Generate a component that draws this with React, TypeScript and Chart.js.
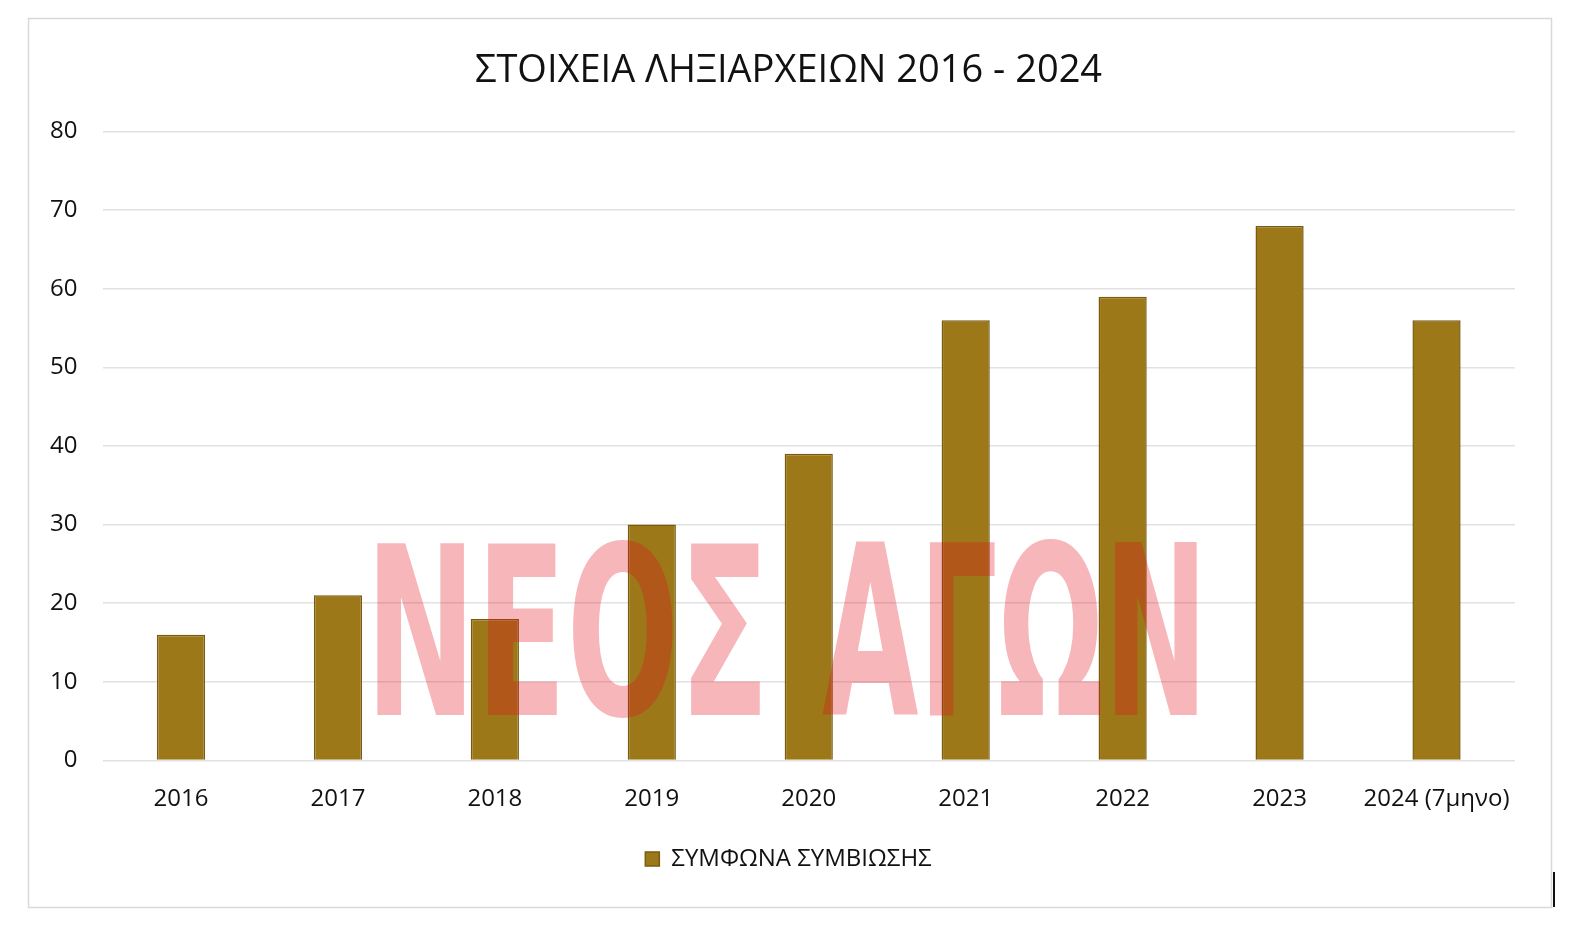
import React, { useEffect, useRef } from "react";
import { Chart, registerables } from "chart.js";

Chart.register(...registerables);

const categories = ["2016", "2017", "2018", "2019", "2020", "2021", "2022", "2023", "2024 (7μηνο)"];
const values = [16, 21, 18, 30, 39, 56, 59, 68, 56];
const seriesName = "ΣΥΜΦΩΝΑ ΣΥΜΒΙΩΣΗΣ";
const titleText = "ΣΤΟΙΧΕΙΑ ΛΗΞΙΑΡΧΕΙΩΝ 2016 - 2024";
const watermarkWords = ["ΝΕΟΣ", "ΑΓΩΝ"];
const yMin = 0;
const yMax = 80;
const yStep = 10;

const FONT = "'Open Sans', 'Noto Sans', sans-serif";

const framePlugin = {
  id: "frame",
  beforeDraw(chart: any) {
    const ctx = chart.ctx;
    ctx.save();
    ctx.fillStyle = "#ffffff";
    ctx.fillRect(0, 0, chart.width, chart.height);
    ctx.strokeStyle = "#d9d9d9";
    ctx.lineWidth = 1.5;
    ctx.strokeRect(28.5, 18.5, 1523, 889);
    ctx.restore();
  },
  afterDraw(chart: any) {
    const ctx = chart.ctx;
    ctx.save();
    const boxes = [
      { x0: 377, x1: 760 },
      { x0: 822, x1: 1198 },
    ];
    const yTop = 539;
    const yBot = 715;
    const h = yBot - yTop;
    ctx.fillStyle = "rgba(225, 12, 25, 0.3)";
    ctx.textBaseline = "alphabetic";
    ctx.textAlign = "left";
    watermarkWords.forEach((w, i) => {
      const b = boxes[i];
      ctx.font = `bold 100px 'DejaVu Sans Condensed', 'DejaVu Sans', sans-serif`;
      const m = ctx.measureText(w);
      const asc = m.actualBoundingBoxAscent;
      const width = m.actualBoundingBoxRight + m.actualBoundingBoxLeft;
      const sy = h / asc;
      const sx = (b.x1 - b.x0) / width;
      ctx.save();
      ctx.translate(b.x0, yBot);
      ctx.scale(sx, sy);
      ctx.fillText(w, m.actualBoundingBoxLeft, 0);
      ctx.restore();
    });
    ctx.strokeStyle = "#111111";
    ctx.lineWidth = 2;
    ctx.beginPath();
    ctx.moveTo(1554, 872);
    ctx.lineTo(1554, 907);
    ctx.stroke();
    ctx.restore();
  },
};

export default function App() {
  const ref = useRef<HTMLCanvasElement>(null);
  useEffect(() => {
    document.body.style.margin = "0";
    const canvas = ref.current!;
    const chart = new Chart(canvas, {
      type: "bar",
      data: {
        labels: categories,
        datasets: [
          {
            label: seriesName,
            data: values,
            backgroundColor: "#9C7819",
            borderColor: "#7a5a0f",
            borderWidth: 1.5,
            categoryPercentage: 1,
            barPercentage: 0.307,
          },
        ],
      },
      options: {
        responsive: false,
        animation: false,
        layout: { padding: { left: 2, right: 0, top: 48, bottom: 44 } },
        plugins: {
          title: {
            display: true,
            text: titleText,
            color: "#111111",
            font: { family: FONT, size: 38, weight: "normal", lineHeight: 1.2 },
            padding: { top: 0, bottom: 38 },
          },
          legend: {
            position: "bottom",
            labels: {
              color: "#111111",
              font: { family: FONT, size: 24 },
              boxWidth: 14,
              boxHeight: 14,
              padding: 10,
            },
          },
          tooltip: { enabled: false },
        },
        scales: {
          x: {
            grid: { display: false, drawTicks: false },
            border: { display: false },
            ticks: {
              color: "#111111",
              font: { family: FONT, size: 24 },
              padding: 24,
              maxRotation: 0,
              autoSkip: false,
            },
            afterFit(scale: any) {
              scale.height = 76.6;
            },
          },
          y: {
            min: yMin,
            max: yMax,
            grid: { color: "#e2e2e2", lineWidth: 1.5, drawTicks: false },
            border: { display: false },
            ticks: {
              stepSize: yStep,
              color: "#111111",
              font: { family: FONT, size: 24 },
              padding: 25,
            },
            afterFit(scale: any) {
              scale.width = 100.5;
            },
          },
          yRightSpace: {
            position: "right",
            display: true,
            grid: { display: false, drawTicks: false },
            border: { display: false },
            ticks: { display: false },
            afterFit(scale: any) {
              scale.width = 60;
            },
          },
        },
      },
      plugins: [framePlugin],
    });
    return () => chart.destroy();
  }, []);
  return <canvas ref={ref} width={1575} height={925} style={{ display: "block" }} />;
}
